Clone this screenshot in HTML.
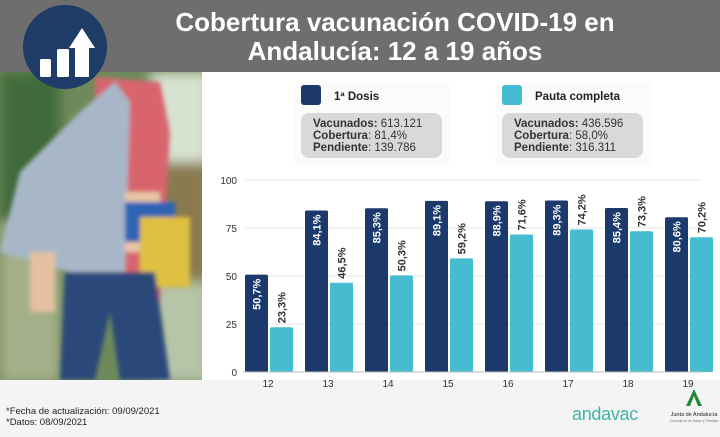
<!DOCTYPE html>
<html><head><meta charset="utf-8"><style>
body{margin:0;width:720px;height:432px;overflow:hidden;background:#f4f4f4;font-family:"Liberation Sans",sans-serif;}
</style></head><body>
<svg width="720" height="432" xmlns="http://www.w3.org/2000/svg" font-family="Liberation Sans, sans-serif">
<defs>
<filter id="bl"><feGaussianBlur stdDeviation="6"/></filter>
<filter id="b2"><feGaussianBlur stdDeviation="2"/></filter>
</defs>
<rect width="720" height="432" fill="#f4f4f4"/>
<rect width="720" height="72" fill="#6e6e6e"/>
<text x="395" y="31" fill="#fff" font-size="26" font-weight="bold" text-anchor="middle">Cobertura vacunación COVID-19 en</text>
<text x="395" y="60" fill="#fff" font-size="26" font-weight="bold" text-anchor="middle">Andalucía: 12 a 19 años</text>
<svg x="0" y="72" width="202" height="308">
<rect width="202" height="308" fill="#6f8a5a"/>
<g filter="url(#bl)">
<rect x="0" y="0" width="60" height="150" fill="#3f6a3a"/>
<rect x="150" y="0" width="60" height="90" fill="#d8e2d0"/>
<rect x="150" y="90" width="60" height="120" fill="#8a7a50"/>
<rect x="0" y="150" width="60" height="160" fill="#a5b08a"/>
<rect x="150" y="210" width="60" height="100" fill="#b6c4a8"/>
</g>
<g filter="url(#b2)">
<path d="M95 5 L160 10 L170 60 L160 230 L95 230 Z" fill="#d8656e"/>
<path d="M20 100 L80 40 L115 10 L130 30 L125 200 L70 200 L0 180 Z" fill="#a7b7c8"/>
<rect x="125" y="120" width="35" height="60" fill="#e8c6a6"/>
<rect x="125" y="130" width="50" height="40" fill="#2d63b5"/>
<rect x="140" y="145" width="50" height="70" fill="#e0c040"/>
<path d="M65 200 L155 200 L170 308 L120 308 L110 240 L95 308 L60 308 Z" fill="#2c4a7a"/>
<rect x="30" y="180" width="25" height="60" fill="#e4c0a0"/>
</g>
</svg>
<circle cx="65" cy="47" r="42" fill="#1f3b68"/>
<rect x="40" y="59" width="11" height="18" rx="1.5" fill="#fff"/>
<rect x="57" y="49" width="12" height="28" rx="1.5" fill="#fff"/>
<path d="M75 77 L75 48 L69 48 L82 28 L95 48 L89 48 L89 77 Z" fill="#fff"/>
<rect x="202" y="72" width="518" height="308" fill="#fff"/>
<rect x="294" y="82" width="156" height="84" rx="6" fill="#fbfbfb"/>
<rect x="301" y="85" width="20" height="20" rx="3" fill="#1b3a6b"/>
<text x="334" y="100" font-size="11.5" font-weight="bold" fill="#222">1ª Dosis</text>
<rect x="301" y="113" width="141" height="45" rx="8" fill="#d9d9d9"/>
<text font-size="11.5" fill="#333"><tspan x="313" y="127"><tspan font-weight="bold">Vacunados:</tspan> 613.121</tspan><tspan x="313" y="139"><tspan font-weight="bold">Cobertura</tspan>: 81,4%</tspan><tspan x="313" y="151"><tspan font-weight="bold">Pendiente</tspan>: 139.786</tspan></text>
<rect x="495" y="82" width="156" height="84" rx="6" fill="#fbfbfb"/>
<rect x="502" y="85" width="20" height="20" rx="3" fill="#45bccf"/>
<text x="535" y="100" font-size="11.5" font-weight="bold" fill="#222">Pauta completa</text>
<rect x="502" y="113" width="141" height="45" rx="8" fill="#d9d9d9"/>
<text font-size="11.5" fill="#333"><tspan x="514" y="127"><tspan font-weight="bold">Vacunados:</tspan> 436.596</tspan><tspan x="514" y="139"><tspan font-weight="bold">Cobertura</tspan>: 58,0%</tspan><tspan x="514" y="151"><tspan font-weight="bold">Pendiente</tspan>: 316.311</tspan></text>
<g stroke="#e6e6e6" stroke-width="1">
<line x1="245" x2="700" y1="180" y2="180"/><line x1="245" x2="700" y1="228" y2="228"/>
<line x1="245" x2="700" y1="276" y2="276"/><line x1="245" x2="700" y1="324" y2="324"/>
</g>
<g font-size="10" fill="#333" text-anchor="end">
<text x="237" y="184">100</text><text x="237" y="232">75</text><text x="237" y="280">50</text><text x="237" y="328">25</text><text x="237" y="376">0</text>
</g>
<g id="bars"></g>
<line x1="243" x2="702" y1="372" y2="372" stroke="#bbb"/>
<text x="6" y="414" font-size="9.5" fill="#222">*Fecha de actualización: 09/09/2021</text>
<text x="6" y="425" font-size="9.5" fill="#222">*Datos: 08/09/2021</text>
<text x="572" y="420" font-size="18" fill="#3fb6a8" letter-spacing="-0.3">andavac</text>
<path d="M686 406 L694 389 L702 406 L698 406 L694 396 L690 406 Z" fill="#1f8a3a"/>
<text x="694" y="416" font-size="5.5" fill="#222" text-anchor="middle">Junta de Andalucía</text>
<text x="694" y="422" font-size="3.5" fill="#777" text-anchor="middle">Consejería de Salud y Familias</text>
</svg>
<script>
var d1=[50.7,84.1,85.3,89.1,88.9,89.3,85.4,80.6],d2=[23.3,46.5,50.3,59.2,71.6,74.2,73.3,70.2];
var ns="http://www.w3.org/2000/svg",g=document.getElementById("bars");
function el(t,a,txt){var e=document.createElementNS(ns,t);for(var k in a)e.setAttribute(k,a[k]);if(txt)e.textContent=txt;g.appendChild(e);}
for(var i=0;i<8;i++){var c=268+i*60;
[[d1[i],c-23,"#1b3a6b",1],[d2[i],c+2,"#45bccf",0]].forEach(function(p){var h=p[0]*1.92;
el("rect",{x:p[1],y:372-h,width:23,height:h,fill:p[2],rx:1.5});
var tx=p[1]+15.5,ty=p[3]?372-h+4:372-h-4;
el("text",{x:tx,y:ty,"font-size":"11","font-weight":"bold",fill:p[3]?"#fff":"#333","text-anchor":p[3]?"end":"start",transform:"rotate(-90 "+tx+" "+ty+")"},p[0].toFixed(1).replace(".",",")+"%");});
el("text",{x:c,y:387,"font-size":"10",fill:"#333","text-anchor":"middle"},String(12+i));}
</script>
</body></html>
